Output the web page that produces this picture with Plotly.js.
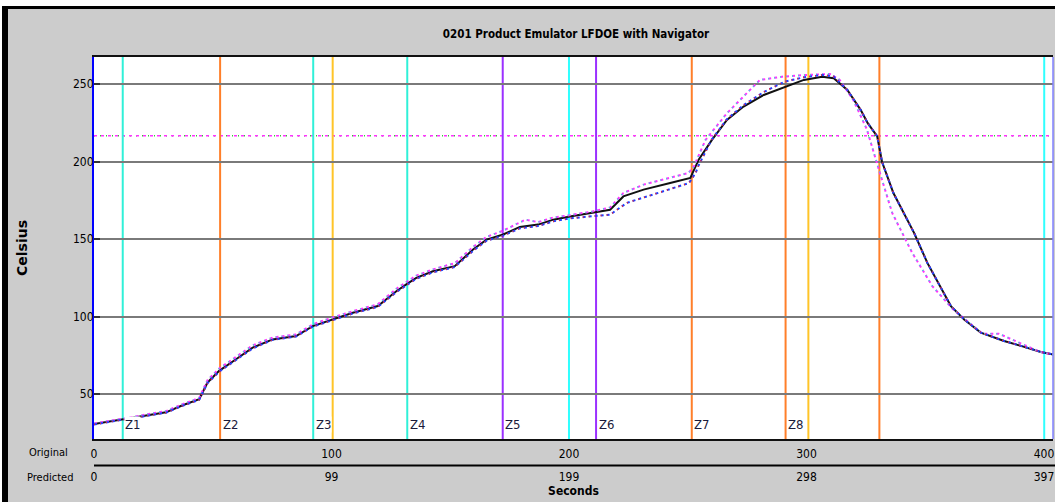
<!DOCTYPE html>
<html>
<head>
<meta charset="utf-8">
<script src="https://cdn.plot.ly/plotly-3.0.1.min.js"></script>
<style>
html,body{margin:0;padding:0;background:#ffffff;}
#chart{width:1055px;height:502px;}
</style>
</head>
<body>
<div id="chart"></div>
<script>
// ---------- DATA ----------
const chartTitle = "0201 Product Emulator LFDOE with Navigator";
const yTitle = "Celsius";
const xTitle = "Seconds";
const rowLabels = ["Original", "Predicted"];

const tickPositions = [0, 100, 200, 300, 400];
const originalTickText = ["0", "100", "200", "300", "400"];
const predictedTickText = ["0", "99", "199", "298", "397"];
const yTicks = [50, 100, 150, 200, 250];

// measured profile (black solid)
const measuredTime = [0,12.7,19.7,30.3,37.3,44.3,47.8,52.7,59.8,66.8,75.2,85.1,92.1,100.5,109,119.5,127.3,131.5,135.7,142.7,151.9,159.6,165.3,172.3,179.3,187,193.4,200.4,210.3,217.3,222.9,231.4,242.6,251.1,254.6,260.2,266.5,273.5,282,291.1,298.9,306.6,311.5,317.2,322.8,325.8,329.8,331.8,336.6,345.3,350.9,360.8,366.4,373.4,383.2,390.3,398.7,404];
const measuredTemp = [30.6,33.8,35.6,38.2,42.8,46.7,57.5,65,72.5,80,85.3,87.5,93.9,98.2,102.5,106.8,116.4,120.8,125,129.3,132.6,143.3,149.7,153,157.9,159.4,162.6,164.7,167.3,169,177.6,182,186.2,189.5,201.3,214.1,227,235.6,243.1,248.5,252.8,254.9,253.9,246.3,233.5,224.9,216.3,200,179.8,154.1,134.7,106.8,98.2,89.7,84.3,81.1,77.2,75.5];

// predicted profile A (upper dotted)
const predATime = [0,12.7,19.7,30.3,37.3,44.3,47.8,52.7,59.8,66.8,75.2,85.1,92.1,100.5,109,119.5,127.3,131.5,135.7,142.7,151.9,159.6,165.3,172.3,181.7,187,193.4,200.4,210.3,217.3,222.9,231.4,242.6,250.3,252.6,257.5,266.5,272,280.4,289.8,299.6,309.9,314,319.7,325.4,330.5,336.1,344.5,353,361.4,368.4,374,381,389.5,398.3,404];
const predATemp = [31,34.3,36.2,39,43.5,47.5,59,66.5,74,81.5,86.5,88.5,95,99.5,103.5,108,118,122.5,126.5,130.5,134.5,145,151.5,155.5,162.6,161,164,165.5,168,170.5,179.8,185.2,189.5,192.7,197,214.1,231.3,239.9,252.8,254.9,256,256.6,252.8,239.9,221,194.8,166.9,141.2,119.7,105.2,96.1,89,89,83.2,77.2,75.5];

// predicted profile B (lower dotted)
const predBTime = [0,12.7,19.7,30.3,37.3,44.3,47.8,52.7,59.8,66.8,75.2,85.1,92.1,100.5,109,119.5,127.3,131.5,135.7,142.7,151.9,159.6,165.3,172.3,179.3,187,193.4,200.4,210.3,217.3,224.3,236.9,250.5,253.3,254.4,260,266.5,273.5,282,290.8,298.9,306.6,311.5,317.2,322.8,325.8,329.8,331.8,336.6,345.3,350.9,360.8,366.4,373.4,383.2,390.3,398.7,404];
const predBTemp = [30.4,33.5,35.3,38,42.5,46.3,57,64.5,72,79.5,85,87.2,93.5,97.8,102,106.3,115.8,120.2,124.4,128.6,132,142.5,149,152.3,157,158.5,161.5,163.5,165,165.8,173.4,179.8,186.2,192.7,197,214.1,227.5,236.5,245,251.7,254.5,256,255,246.3,233.5,224.9,216.3,200,179.8,154.1,134.7,106.8,98.2,89.7,84.3,81.1,77.2,75.5];

// zone / marker lines
const markerTimes  = [12.1, 53.1, 92.3, 100.5, 131.9, 172.1, 200, 211.4, 251.7, 291.2, 300.8, 330.7, 400.1];
const markerLabels = ["Z1", "Z2", "Z3", "", "Z4", "Z5", "", "Z6", "Z7", "Z8", "", "", ""];
const markerColors = ["#30f0d8","#ff7f2a","#30f0d8","#ffc428","#30f0d8","#9b30ff","#30ffff","#9b30ff","#ff7f2a","#ff7f2a","#ffc428","#ff7f2a","#30ffff"];
const limitTemp = 216.7;

// ---------- LAYOUT HELPERS ----------
const W = 1055, H = 502;
const M = {l: 94, r: 2, t: 57, b: 63};
const PW = W - M.l - M.r, PH = H - M.t - M.b;
const px = x => (x - M.l) / PW;      // pixel -> paper x
const py = y => (M.t + PH - y) / PH; // pixel -> paper y

const narrow = "'Liberation Sans Narrow', 'DejaVu Sans Condensed', 'Arial Narrow', sans-serif";

const traces = [
  {x: measuredTime, y: measuredTemp, type: 'scatter', mode: 'lines',
   line: {color: '#111111', width: 2}, hoverinfo: 'skip', showlegend: false},
  {x: predATime, y: predATemp, type: 'scatter', mode: 'lines',
   line: {color: '#ff33ff', width: 2, dash: 'dot'}, hoverinfo: 'skip', showlegend: false},
  {x: predATime, y: predATemp, type: 'scatter', mode: 'lines',
   line: {color: '#33e0e0', width: 1.5, dash: '1px,5px'}, hoverinfo: 'skip', showlegend: false},
  {x: predBTime, y: predBTemp, type: 'scatter', mode: 'lines',
   line: {color: '#2040ff', width: 2, dash: 'dot'}, hoverinfo: 'skip', showlegend: false},
  {x: predBTime, y: predBTemp, type: 'scatter', mode: 'lines',
   line: {color: '#ff2020', width: 1.5, dash: '1px,5px'}, hoverinfo: 'skip', showlegend: false},
  {x: [], y: [], xaxis: 'x2', type: 'scatter', mode: 'lines', showlegend: false, hoverinfo: 'skip'}
];

const shapes = [];
// outer frame
shapes.push({type:'rect', xref:'paper', yref:'paper', x0:px(0), x1:px(W), y0:py(6), y1:py(0), fillcolor:'#ffffff', line:{width:0}, layer:'below'});
shapes.push({type:'rect', xref:'paper', yref:'paper', x0:px(0), x1:px(2), y0:py(H), y1:py(0), fillcolor:'#ffffff', line:{width:0}, layer:'below'});
shapes.push({type:'rect', xref:'paper', yref:'paper', x0:px(2), x1:px(W), y0:py(9), y1:py(6), fillcolor:'#000000', line:{width:0}, layer:'below'});
shapes.push({type:'rect', xref:'paper', yref:'paper', x0:px(2), x1:px(8), y0:py(H), y1:py(6), fillcolor:'#000000', line:{width:0}, layer:'below'});
// separator between the two time rows
shapes.push({type:'line', xref:'paper', yref:'paper', x0:0, x1:px(W), y0:py(465.5), y1:py(465.5), line:{color:'#000000', width:2}});
// right border
shapes.push({type:'line', xref:'paper', yref:'paper', x0:1, x1:1, y0:0, y1:1, line:{color:'#8080ff', width:1.5}});
// limit line
shapes.push({type:'line', xref:'paper', yref:'y', x0:0, x1:1, y0:limitTemp, y1:limitTemp, line:{color:'#30d030', width:1.5, dash:'1px,5px'}, layer:'below'});
shapes.push({type:'line', xref:'paper', yref:'y', x0:0, x1:1, y0:limitTemp, y1:limitTemp, line:{color:'#ff33ff', width:1.5, dash:'3px,4px'}, layer:'below'});
// marker lines
markerTimes.forEach((t, i) => {
  shapes.push({type:'line', xref:'x', yref:'paper', x0:t, x1:t, y0:0, y1:1,
    line:{color: markerColors[i], width: 2}, layer:'below'});
});

const annotations = [];
markerTimes.forEach((t, i) => {
  if (!markerLabels[i]) return;
  annotations.push({x: t, y: 30.6, xref:'x', yref:'y', text: markerLabels[i], showarrow:false,
    xanchor:'left', yanchor:'middle', xshift: 1.5, bgcolor:'#ffffff', borderpad:0,
    font:{family: narrow, size: 13, color:'#1a1a3a'}});
});
annotations.push({x: px(70), y: py(452.5), xref:'paper', yref:'paper', text: rowLabels[0], showarrow:false,
  xanchor:'right', yanchor:'middle', font:{family: narrow, size: 11, color:'#000'}});
annotations.push({x: px(75), y: py(477.5), xref:'paper', yref:'paper', text: rowLabels[1], showarrow:false,
  xanchor:'right', yanchor:'middle', font:{family: narrow, size: 11, color:'#000'}});

const layout = {
  width: W, height: H,
  margin: M,
  paper_bgcolor: '#cccccc',
  plot_bgcolor: '#ffffff',
  showlegend: false,
  title: {text: chartTitle, x: px(576), xref:'paper', xanchor:'center', y: 1 - 34/H, yref:'container', yanchor:'middle',
    font:{family: narrow, size: 11.5, color:'#000', weight: 'bold'}},
  xaxis: {range:[0, 403.8], tickvals: tickPositions, ticktext: originalTickText, ticks:'',
    showgrid:false, zeroline:false, showline:true, linecolor:'#111', linewidth:2, mirror:true,
    tickfont:{family: narrow, size: 12, color:'#000'}, ticklabelstandoff: 3, fixedrange:true},
  xaxis2: {range:[0, 403.8], overlaying:'x', anchor:'y', side:'bottom', tickvals: tickPositions, ticktext: predictedTickText,
    ticks:'', showgrid:false, zeroline:false, showline:false,
    tickfont:{family: narrow, size: 12, color:'#000'}, ticklabelstandoff: 29,
    title:{text: xTitle, standoff: 0, font:{family: narrow, size: 12, color:'#000', weight:'bold'}}, fixedrange:true},
  yaxis: {range:[21, 267.6], tickvals: yTicks, ticks:'inside', ticklen:6, tickwidth:2, tickcolor:'#333',
    showgrid:true, gridcolor:'#7a7a7a', gridwidth:2, zeroline:false,
    showline:true, linecolor:'#0000ff', linewidth:2,
    tickfont:{family: narrow, size: 12, color:'#000'}, ticklabelstandoff: -4,
    title:{text: yTitle, standoff: 42, font:{family:"'DejaVu Sans', sans-serif", size: 14, color:'#000', weight:'bold'}}, fixedrange:true},
  shapes: shapes,
  annotations: annotations
};

Plotly.newPlot('chart', traces, layout, {staticPlot: true, displayModeBar: false});
</script>
</body>
</html>
